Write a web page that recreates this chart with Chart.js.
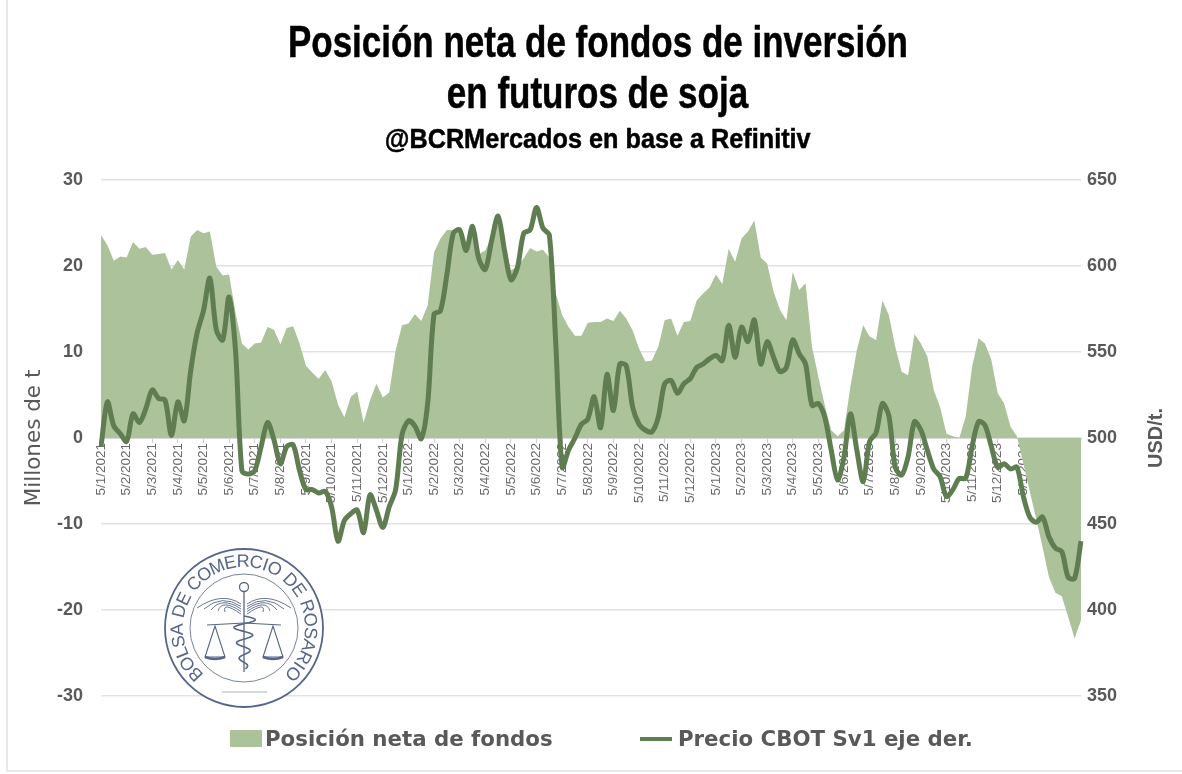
<!DOCTYPE html>
<html>
<head>
<meta charset="utf-8">
<title>Posición neta de fondos</title>
<script src="https://cdn.jsdelivr.net/npm/chart.js@4"></script>
<style>
  html, body { margin: 0; background: #fff; }
  #page { position: relative; width: 1182px; height: 774px; overflow: hidden; filter: blur(0.4px); }
  #chart { display: block; position: absolute; left: 0; top: 0; }
  #frame { position: absolute; left: 6px; top: 0; width: 1176px; height: 772px; border-left: 2px solid #e8e8e8; border-bottom: 2px solid #e8e8e8; box-sizing: border-box; }
  .head { position: absolute; left: 13px; width: 1169px; text-align: center; color: #000; font-family: "Liberation Sans"; font-weight: bold; white-space: nowrap; -webkit-text-stroke: 0.5px #000; }
  .head span { display: inline-block; }
  #t1 { top: 16px; font-size: 44px; line-height: 52px; }
  #t1 span { transform: scaleX(0.795); }
  #t2 { top: 67px; font-size: 44px; line-height: 52px; }
  #t2 span { transform: scaleX(0.795); }
  #t3 { top: 123px; font-size: 27px; line-height: 32px; }
  #t3 span { transform: scaleX(0.935); }
  .key { position: absolute; top: 725px; height: 28px; line-height: 28px; color: #595959; font: bold 21.3px/28px "DejaVu Sans"; white-space: nowrap; }
  .swatch { position: absolute; }
</style>
</head>
<body>
<div id="page">
  <canvas id="chart" width="1182" height="774"></canvas>
  <div id="frame"></div>
  <div class="head" id="t1"><span>Posición neta de fondos de inversión</span></div>
  <div class="head" id="t2"><span>en futuros de soja</span></div>
  <div class="head" id="t3"><span>@BCRMercados en base a Refinitiv</span></div>
  <div class="swatch" style="left:230px;top:730px;width:32px;height:17px;background:#abc29a"></div>
  <div class="key" style="left:265px">Posición neta de fondos</div>
  <div class="swatch" style="left:640px;top:737px;width:32px;height:4px;background:#5f7d50"></div>
  <div class="key" style="left:678px">Precio CBOT Sv1 eje der.</div>
</div>
<script>
const tickLabels = [
  '5/1/2021','5/2/2021','5/3/2021','5/4/2021','5/5/2021','5/6/2021','5/7/2021','5/8/2021','5/9/2021','5/10/2021','5/11/2021','5/12/2021',
  '5/1/2022','5/2/2022','5/3/2022','5/4/2022','5/5/2022','5/6/2022','5/7/2022','5/8/2022','5/9/2022','5/10/2022','5/11/2022','5/12/2022',
  '5/1/2023','5/2/2023','5/3/2023','5/4/2023','5/5/2023','5/6/2023','5/7/2023','5/8/2023','5/9/2023','5/10/2023','5/11/2023','5/12/2023',
  '5/1/2024','5/2/2024','5/3/2024'
];

// millones de t, one reading about every week
const posicion = [
  23.6,22.4,20.6,21.1,21,22.8,22,22.2,21.3,21.4,21.5,19.6,20.7,19.6,23.4,24.2,23.8,24,19.9,18.9,
  19,14.6,11,10.3,11,11.1,12.9,12.6,10.9,12.8,13,11,8.4,7.6,6.9,7.9,6.6,3.9,2.4,4.8,
  5.4,1.8,4.4,6.3,4.7,5.3,10.2,13.1,13.3,14.4,13.6,15.4,21.6,23.2,24.2,24.2,23.8,22.6,23.8,21.4,
  21.8,23.4,24.9,22.6,19.5,19.9,20.9,22.1,21.7,21.9,21,16.8,14.3,12.9,11.9,11.9,13.4,13.5,13.5,13.9,
  13.6,14.8,13.9,12.5,10.4,8.9,9,10.6,13.7,13.9,11.9,13.5,13.6,16,16.8,17.5,19,17.9,22,20.5,
  23.2,24,25.3,21,20.3,17,14.9,13.7,19.3,17.2,18,10.6,7.1,3.8,0.9,0.2,0.9,6,10.2,13.1,
  11.8,11.4,16,14.3,10.6,7.7,7.3,12.1,11,9.5,5.6,3.6,0.5,0.2,0,2.5,8.3,11.6,11,9.1,
  5.2,4,1.3,0.2,-3,-6.2,-9.4,-12.7,-16.2,-18,-18.4,-20.8,-23.3,-21.2
];

// USD/t
const precio = [
  495,521,507,502.5,498,514,509,517,528,523,522,501.5,521,510,539,561,574,593,563,557,
  582,551,481,479,481,495,509,499,485,495,496,481,470,470,468,469,460,440,452,456,
  458,445,467,458,448,460,470,502,510,507,499.6,520,572,574,595,619,621,609,623,604,
  598,615,629,609,592,599,619,621,634,622,618,555,483,493,500,508,511,524,506,537,
  516,543,542,518,508,504.5,503.5,512,531.6,533.5,526,531.6,534.5,541,543,546,548,545,565.5,547,
  564.5,556,568.6,543,556,547,538.6,541,557,549,543,519,520,512,493,475.6,489,514,493,474.6,
  498,503,520,513,483,478.5,489,509.5,504.6,493,482,477.5,466,470,476.5,476.5,495,509.5,507.5,495,
  483,485,482,483,466,454,451,454,442.6,436,434,419,418.4,440
];

const STEP = 4;
const categories = posicion.map((v, i) => (i % STEP === 0 ? tickLabels[i / STEP] : ''));

const gray = '#595959';
const gridColor = '#e2e2e2';
const areaColor = '#abc29a';
const lineColor = '#5f7d50';
const sealColor = '#56658a';

const sealPlugin = {
  id: 'seal',
  afterDatasetsDraw(chart) {
    const c = chart.ctx;
    const cx = 244, cy = 628, r = 79;
    c.save();
    c.fillStyle = '#fff';
    c.beginPath(); c.arc(cx, cy, r, 0, Math.PI * 2); c.fill();
    c.strokeStyle = sealColor;
    c.lineWidth = 1.8;
    c.beginPath(); c.arc(cx, cy, r, 0, Math.PI * 2); c.stroke();
    c.lineWidth = 0.8;
    c.beginPath(); c.arc(cx, cy, 54, 0, Math.PI * 2); c.stroke();

    // lettering round the ring, spaced by glyph width
    const text = 'BOLSA DE COMERCIO DE ROSARIO';
    c.fillStyle = sealColor;
    c.font = '18px "Liberation Sans"';
    c.textAlign = 'center';
    c.textBaseline = 'middle';
    const widths = [...text].map(ch => c.measureText(ch).width + 1);
    const total = widths.reduce((a, b) => a + b, 0);
    const start = 131 * Math.PI / 180, span = 278 * Math.PI / 180;
    let run = 0;
    [...text].forEach((ch, i) => {
      const a = start + span * (run + widths[i] / 2) / total;
      run += widths[i];
      c.save();
      c.translate(cx + Math.cos(a) * 66, cy + Math.sin(a) * 66);
      c.rotate(a + Math.PI / 2);
      c.fillText(ch, 0, 0);
      c.restore();
    });

    // staff, serpent, wings and scales
    c.lineWidth = 1.3;
    c.beginPath(); c.moveTo(cx, cy - 37); c.lineTo(cx, cy + 44); c.stroke();
    c.beginPath(); c.arc(cx, cy - 41, 4.5, 0, Math.PI * 2); c.stroke();
    c.lineWidth = 1.6;
    c.beginPath();
    for (let t = 0; t <= 1; t += 0.02) {
      const x = cx + Math.sin(t * Math.PI * 7) * 12 * (1 - t * 0.75);
      const y = cy - 12 + t * 54;
      if (t === 0) c.moveTo(x, y); else c.lineTo(x, y);
    }
    c.stroke();
    [-1, 1].forEach(side => {
      c.lineWidth = 0.9;
      for (let k = 0; k < 5; k++) {
        c.beginPath();
        c.moveTo(cx + side * 3, cy - 24 + k * 2.5);
        c.quadraticCurveTo(cx + side * 22, cy - 37 + k * 2.5, cx + side * (47 - k * 7), cy - 20 + k);
        c.stroke();
      }
      const px = cx + side * 29;
      c.lineWidth = 1.1;
      c.beginPath();
      c.moveTo(cx, cy - 5); c.lineTo(cx + side * 37, cy - 3);
      c.moveTo(px, cy - 2); c.lineTo(px - 10, cy + 29); c.lineTo(px + 10, cy + 29); c.closePath();
      c.stroke();
      c.lineWidth = 2.6;
      c.beginPath(); c.moveTo(px - 10, cy + 29); c.quadraticCurveTo(px, cy + 33, px + 10, cy + 29); c.stroke();
    });
    c.lineWidth = 1;
    c.globalAlpha = 0.5;
    c.beginPath(); c.moveTo(cx - 22, cy + 64); c.lineTo(cx + 23, cy + 64); c.stroke();
    c.restore();
  }
};

const sideTitlePlugin = {
  id: 'sideTitles',
  afterDraw(chart) {
    const c = chart.ctx;
    c.save();
    c.fillStyle = gray;
    c.textAlign = 'center';
    c.textBaseline = 'middle';
    c.font = 'bold 20px "Liberation Sans"';
    c.translate(1156, 438);
    c.rotate(-Math.PI / 2);
    c.fillText('USD/t.', 0, 0);
    c.restore();
  }
};

new Chart(document.getElementById('chart'), {
  type: 'line',
  data: {
    labels: categories,
    datasets: [
      {
        label: 'Precio CBOT Sv1 eje der.',
        data: precio,
        yAxisID: 'y1',
        borderColor: lineColor,
        backgroundColor: lineColor,
        borderWidth: 5,
        tension: 0.3,
        pointRadius: 0,
        order: 1
      },
      {
        label: 'Posición neta de fondos',
        data: posicion,
        yAxisID: 'y',
        borderColor: areaColor,
        backgroundColor: areaColor,
        borderWidth: 0,
        fill: 'origin',
        tension: 0,
        pointRadius: 0,
        order: 2
      }
    ]
  },
  options: {
    responsive: false,
    animation: false,
    layout: { padding: { left: 10, right: 12, top: 180, bottom: 78 } },
    plugins: {
      tooltip: { enabled: false },
      legend: { display: false }
    },
    scales: {
      x: {
        position: { y: 0 },
        grid: { drawOnChartArea: false, color: '#d0d0d0', tickLength: 4 },
        border: { color: '#d9d9d9' },
        afterBuildTicks: s => { s.ticks = s.ticks.filter(t => t.value % STEP === 0); },
        ticks: {
          autoSkip: false,
          minRotation: 90,
          maxRotation: 90,
          color: '#6a6a6a',
          padding: 1,
          font: { family: '"Liberation Sans"', size: 13.5 }
        }
      },
      y: {
        position: 'left',
        min: -30,
        max: 30,
        afterFit: s => { s.width = 91; },
        grid: { color: gridColor, lineWidth: 1.5, drawTicks: false },
        border: { display: false },
        title: {
          display: true,
          text: 'Millones de t',
          color: gray,
          padding: { top: 12, bottom: 0 },
          font: { family: '"DejaVu Sans"', size: 21.5 }
        },
        ticks: {
          stepSize: 10,
          color: gray,
          padding: 18,
          font: { family: '"Liberation Sans"', size: 18, weight: 'bold' }
        }
      },
      y1: {
        position: 'right',
        min: 350,
        max: 650,
        afterFit: s => { s.width = 89; },
        grid: { display: false, drawTicks: false },
        border: { display: false },
        ticks: {
          stepSize: 50,
          color: gray,
          padding: 6,
          font: { family: '"Liberation Sans"', size: 18, weight: 'bold' }
        }
      }
    }
  },
  plugins: [sealPlugin, sideTitlePlugin]
});
</script>
</body>
</html>
